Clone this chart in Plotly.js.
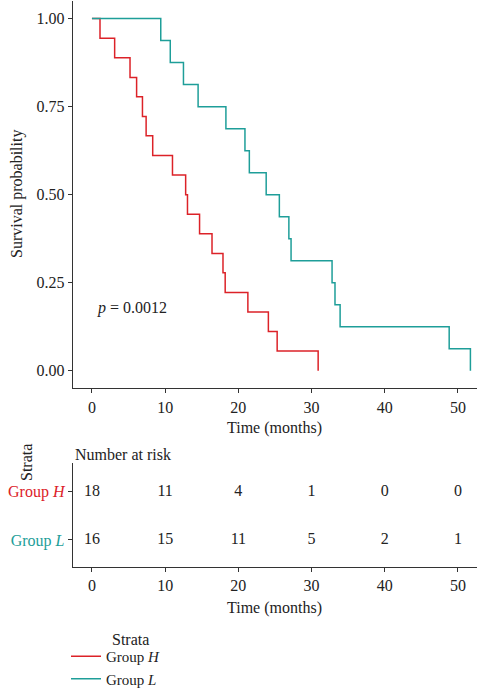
<!DOCTYPE html>
<html>
<head>
<meta charset="utf-8">
<script src="https://cdn.plot.ly/plotly-3.0.1.min.js"></script>
<style>html,body{margin:0;padding:0;background:#fff;}#chart{width:477px;height:692px;}</style>
</head>
<body>
<div id="chart"></div>
<script>
// Kaplan-Meier step data
const time_H = [0, 1.1, 3.1, 5.2, 6.1, 6.9, 7.4, 8.3, 11.0, 12.8, 13.05, 14.7, 16.4, 17.9, 18.2, 21.3, 24.1, 25.3, 30.9];
const surv_H = [1, 0.944, 0.889, 0.833, 0.778, 0.722, 0.667, 0.611, 0.556, 0.5, 0.444, 0.389, 0.333, 0.278, 0.222, 0.167, 0.111, 0.056, 0];
const time_L = [0, 9.4, 10.7, 12.5, 14.5, 18.3, 20.9, 21.5, 23.8, 25.6, 26.9, 27.2, 32.8, 33.2, 33.9, 48.8, 51.7];
const surv_L = [1, 0.9375, 0.875, 0.8125, 0.75, 0.6875, 0.625, 0.5625, 0.5, 0.4375, 0.375, 0.3125, 0.25, 0.1875, 0.125, 0.0625, 0];

// Number at risk table
const riskTimes = [0, 10, 20, 30, 40, 50];
const risk_H = [18, 11, 4, 1, 0, 0];
const risk_L = [16, 15, 11, 5, 2, 1];

const groupNames = ['Group <i>H</i>', 'Group <i>L</i>'];
const xTicks = [0, 10, 20, 30, 40, 50];
const yTicks = [0, 0.25, 0.5, 0.75, 1];
const pText = '<i>p</i> = 0.0012';

const colH = '#DC2228';
const colL = '#1E9E99';
const FONT = 'Liberation Serif, Times New Roman, serif';
const FS = 16;
const W = 477, H = 692;
const px = v => v / W;
const py = v => 1 - v / H;

const traces = [
  {x: time_H, y: surv_H, type: 'scatter', mode: 'lines', line: {shape: 'hv', color: colH, width: 1.5},
   name: groupNames[0], xaxis: 'x', yaxis: 'y', hoverinfo: 'skip'},
  {x: time_L, y: surv_L, type: 'scatter', mode: 'lines', line: {shape: 'hv', color: colL, width: 1.5},
   name: groupNames[1], xaxis: 'x', yaxis: 'y', hoverinfo: 'skip'},
  {x: riskTimes, y: riskTimes.map(() => 2), text: risk_H.map(String), type: 'scatter', mode: 'text',
   textfont: {family: FONT, size: FS, color: '#222'}, showlegend: false, xaxis: 'x2', yaxis: 'y2', hoverinfo: 'skip'},
  {x: riskTimes, y: riskTimes.map(() => 1), text: risk_L.map(String), type: 'scatter', mode: 'text',
   textfont: {family: FONT, size: FS, color: '#222'}, showlegend: false, xaxis: 'x2', yaxis: 'y2', hoverinfo: 'skip'}
];

const axCommon = {
  showline: true, linecolor: '#333', linewidth: 1, ticks: 'outside', ticklen: 4, tickwidth: 1, tickcolor: '#333',
  showgrid: false, zeroline: false, tickfont: {family: FONT, size: FS, color: '#222'}, fixedrange: true
};

const layout = {
  width: W, height: H, autosize: false,
  margin: {l: 0, r: 0, t: 0, b: 0, pad: 0, autoexpand: false},
  paper_bgcolor: '#fff', plot_bgcolor: '#fff',
  font: {family: FONT, size: FS, color: '#222'},
  xaxis: Object.assign({}, axCommon, {domain: [px(72.7), 1], range: [-2.63, 52.6], tickvals: xTicks, anchor: 'y'}),
  yaxis: Object.assign({}, axCommon, {domain: [py(388.3), py(1)], range: [-0.05, 1.05], tickvals: yTicks, tickformat: '.2f', anchor: 'x'}),
  xaxis2: Object.assign({}, axCommon, {domain: [px(72.7), 1], range: [-2.63, 52.6], tickvals: xTicks, anchor: 'y2'}),
  yaxis2: Object.assign({}, axCommon, {domain: [py(566.7), py(463)], range: [0.447, 2.594], tickvals: [2, 1],
    ticktext: ['<span style="color:' + colH + '">' + groupNames[0] + '</span>', '<span style="color:' + colL + '">' + groupNames[1] + '</span>'],
    anchor: 'x2'}),
  showlegend: true,
  legend: {
    x: px(66), y: py(640), xanchor: 'left', yanchor: 'top',
    font: {family: FONT, size: 15, color: '#222'}, bgcolor: 'rgba(0,0,0,0)', tracegroupgap: 0
  },
  annotations: [
    {text: 'Survival probability', textangle: -90, x: px(17), y: py(194), xref: 'paper', yref: 'paper', showarrow: false,
     xanchor: 'center', yanchor: 'middle', font: {family: FONT, size: FS, color: '#222'}},
    {text: 'Time (months)', x: px(274.8), y: py(428), xref: 'paper', yref: 'paper', showarrow: false,
     xanchor: 'center', yanchor: 'middle', font: {family: FONT, size: FS, color: '#222'}},
    {text: pText, x: px(95), y: py(307.7), xref: 'paper', yref: 'paper', showarrow: false,
     xanchor: 'left', yanchor: 'middle', font: {family: FONT, size: FS, color: '#222'}},
    {text: 'Number at risk', x: px(73), y: py(454), xref: 'paper', yref: 'paper', showarrow: false,
     xanchor: 'left', yanchor: 'middle', font: {family: FONT, size: FS, color: '#222'}},
    {text: 'Strata', textangle: -90, x: px(26), y: py(463), xref: 'paper', yref: 'paper', showarrow: false,
     xanchor: 'center', yanchor: 'middle', font: {family: FONT, size: FS, color: '#222'}},
    {text: 'Time (months)', x: px(274.8), y: py(608), xref: 'paper', yref: 'paper', showarrow: false,
     xanchor: 'center', yanchor: 'middle', font: {family: FONT, size: FS, color: '#222'}},
    {text: 'Strata', x: px(110), y: py(639), xref: 'paper', yref: 'paper', showarrow: false,
     xanchor: 'left', yanchor: 'middle', font: {family: FONT, size: FS, color: '#222'}}
  ]
};

Plotly.newPlot('chart', traces, layout, {displayModeBar: false, staticPlot: true});
</script>
</body>
</html>
